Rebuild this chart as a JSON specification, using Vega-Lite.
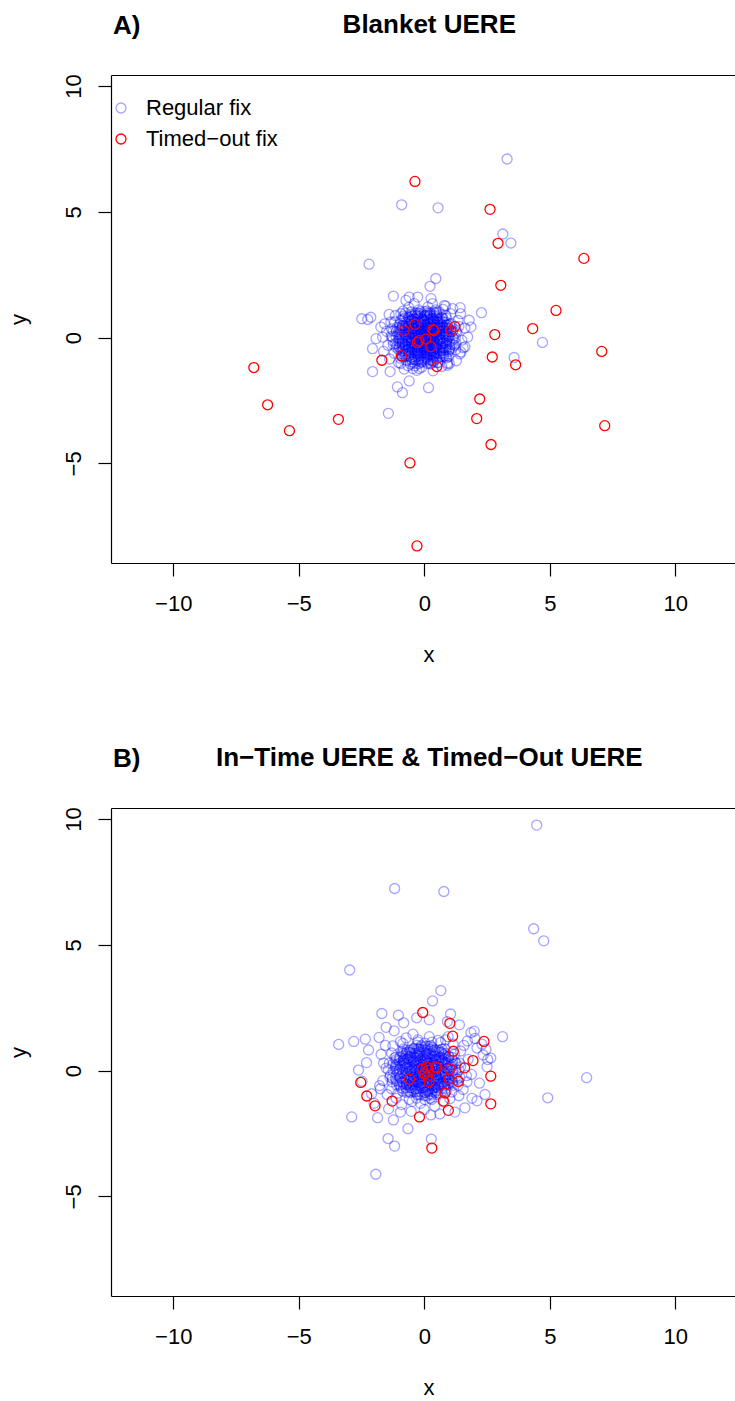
{
"$schema": "https://vega.github.io/schema/vega-lite/v6.json",
"background": "white",
"padding": {"left": 7, "top": 11, "right": 0, "bottom": 0},
"spacing": 79,
"config": {
 "font": "Liberation Sans",
 "view": {"stroke": null},
 "axis": {"grid": false, "domainColor": "#000", "domainWidth": 1.2, "tickColor": "#000", "tickWidth": 1.2, "tickSize": 13, "labelColor": "#000", "titleColor": "#000", "labelFontSize": 22, "titleFontSize": 22, "titleFontWeight": "normal", "labelFont": "Liberation Sans", "titleFont": "Liberation Sans"},
 "title": {"font": "Liberation Sans", "fontSize": 26, "fontWeight": "bold", "color": "#000"},
 "legend": {"labelFont": "Liberation Sans", "labelFontSize": 22, "labelColor": "#000"}
},
"resolve": {"scale": {"color": "independent", "opacity": "independent"}},
"datasets": {
"a": [
{"x":-1.12,"y":0.03,"fix":"Regular fix"},{"x":-0.88,"y":-0.04,"fix":"Regular fix"},{"x":-0.63,"y":0.02,"fix":"Regular fix"},{"x":-0.36,"y":-0.03,"fix":"Regular fix"},{"x":-0.13,"y":0.05,"fix":"Regular fix"},{"x":0.11,"y":-0.02,"fix":"Regular fix"},{"x":0.38,"y":0.04,"fix":"Regular fix"},{"x":0.64,"y":-0.05,"fix":"Regular fix"},{"x":0.86,"y":0.03,"fix":"Regular fix"},{"x":1.14,"y":-0.01,"fix":"Regular fix"},
{"x":-1.14,"y":-0.23,"fix":"Regular fix"},{"x":-0.86,"y":-0.28,"fix":"Regular fix"},{"x":-0.61,"y":-0.24,"fix":"Regular fix"},{"x":-0.39,"y":-0.27,"fix":"Regular fix"},{"x":-0.11,"y":-0.22,"fix":"Regular fix"},{"x":0.14,"y":-0.27,"fix":"Regular fix"},{"x":0.36,"y":-0.23,"fix":"Regular fix"},{"x":0.63,"y":-0.26,"fix":"Regular fix"},{"x":0.89,"y":-0.22,"fix":"Regular fix"},{"x":1.11,"y":-0.27,"fix":"Regular fix"},
{"x":-1.11,"y":0.24,"fix":"Regular fix"},{"x":-0.89,"y":0.28,"fix":"Regular fix"},{"x":-0.64,"y":0.22,"fix":"Regular fix"},{"x":-0.36,"y":0.26,"fix":"Regular fix"},{"x":-0.14,"y":0.23,"fix":"Regular fix"},{"x":0.12,"y":0.28,"fix":"Regular fix"},{"x":0.39,"y":0.24,"fix":"Regular fix"},{"x":0.61,"y":0.27,"fix":"Regular fix"},{"x":0.88,"y":0.23,"fix":"Regular fix"},{"x":1.13,"y":0.26,"fix":"Regular fix"},
{"x":-0.86,"y":-0.52,"fix":"Regular fix"},{"x":-0.63,"y":-0.47,"fix":"Regular fix"},{"x":-0.38,"y":-0.53,"fix":"Regular fix"},{"x":-0.12,"y":-0.48,"fix":"Regular fix"},{"x":0.13,"y":-0.51,"fix":"Regular fix"},{"x":0.37,"y":-0.47,"fix":"Regular fix"},{"x":0.64,"y":-0.53,"fix":"Regular fix"},{"x":0.87,"y":-0.48,"fix":"Regular fix"},
{"x":-0.88,"y":0.48,"fix":"Regular fix"},{"x":-0.62,"y":0.53,"fix":"Regular fix"},{"x":-0.36,"y":0.47,"fix":"Regular fix"},{"x":-0.14,"y":0.52,"fix":"Regular fix"},{"x":0.11,"y":0.49,"fix":"Regular fix"},{"x":0.38,"y":0.53,"fix":"Regular fix"},{"x":0.62,"y":0.47,"fix":"Regular fix"},{"x":0.89,"y":0.51,"fix":"Regular fix"},
{"x":-0.87,"y":-0.77,"fix":"Regular fix"},{"x":-0.64,"y":-0.73,"fix":"Regular fix"},{"x":-0.37,"y":-0.78,"fix":"Regular fix"},{"x":-0.13,"y":-0.72,"fix":"Regular fix"},{"x":0.12,"y":-0.76,"fix":"Regular fix"},{"x":0.39,"y":-0.73,"fix":"Regular fix"},{"x":0.61,"y":-0.78,"fix":"Regular fix"},{"x":0.86,"y":-0.74,"fix":"Regular fix"},
{"x":-0.86,"y":0.73,"fix":"Regular fix"},{"x":-0.61,"y":0.78,"fix":"Regular fix"},{"x":-0.39,"y":0.74,"fix":"Regular fix"},{"x":-0.11,"y":0.77,"fix":"Regular fix"},{"x":0.14,"y":0.72,"fix":"Regular fix"},{"x":0.36,"y":0.76,"fix":"Regular fix"},{"x":0.63,"y":0.73,"fix":"Regular fix"},{"x":0.88,"y":0.77,"fix":"Regular fix"},
{"x":-0.38,"y":-1.02,"fix":"Regular fix"},{"x":-0.12,"y":-0.98,"fix":"Regular fix"},{"x":0.13,"y":-1.03,"fix":"Regular fix"},{"x":0.37,"y":-0.97,"fix":"Regular fix"},
{"x":-0.36,"y":0.98,"fix":"Regular fix"},{"x":-0.14,"y":1.03,"fix":"Regular fix"},{"x":0.12,"y":0.97,"fix":"Regular fix"},{"x":0.38,"y":1.02,"fix":"Regular fix"},
{"x":-1.02,"y":-0.13,"fix":"Regular fix"},{"x":-0.74,"y":-0.11,"fix":"Regular fix"},{"x":-0.52,"y":-0.14,"fix":"Regular fix"},{"x":-0.26,"y":-0.12,"fix":"Regular fix"},{"x":0.02,"y":-0.15,"fix":"Regular fix"},{"x":0.24,"y":-0.1,"fix":"Regular fix"},{"x":0.52,"y":-0.13,"fix":"Regular fix"},{"x":0.73,"y":-0.12,"fix":"Regular fix"},{"x":1.01,"y":-0.14,"fix":"Regular fix"},
{"x":-0.98,"y":0.11,"fix":"Regular fix"},{"x":-0.76,"y":0.14,"fix":"Regular fix"},{"x":-0.49,"y":0.12,"fix":"Regular fix"},{"x":-0.23,"y":0.15,"fix":"Regular fix"},{"x":-0.01,"y":0.1,"fix":"Regular fix"},{"x":0.27,"y":0.13,"fix":"Regular fix"},{"x":0.49,"y":0.11,"fix":"Regular fix"},{"x":0.77,"y":0.14,"fix":"Regular fix"},{"x":0.98,"y":0.12,"fix":"Regular fix"},
{"x":-1.01,"y":-0.36,"fix":"Regular fix"},{"x":-0.73,"y":-0.39,"fix":"Regular fix"},{"x":-0.51,"y":-0.37,"fix":"Regular fix"},{"x":-0.24,"y":-0.4,"fix":"Regular fix"},{"x":0.03,"y":-0.35,"fix":"Regular fix"},{"x":0.26,"y":-0.38,"fix":"Regular fix"},{"x":0.48,"y":-0.36,"fix":"Regular fix"},{"x":0.76,"y":-0.39,"fix":"Regular fix"},{"x":1.02,"y":-0.37,"fix":"Regular fix"},
{"x":-0.99,"y":0.39,"fix":"Regular fix"},{"x":-0.77,"y":0.36,"fix":"Regular fix"},{"x":-0.48,"y":0.38,"fix":"Regular fix"},{"x":-0.27,"y":0.35,"fix":"Regular fix"},{"x":0.01,"y":0.39,"fix":"Regular fix"},{"x":0.23,"y":0.37,"fix":"Regular fix"},{"x":0.51,"y":0.4,"fix":"Regular fix"},{"x":0.74,"y":0.36,"fix":"Regular fix"},{"x":0.97,"y":0.38,"fix":"Regular fix"},
{"x":-0.76,"y":-0.63,"fix":"Regular fix"},{"x":-0.49,"y":-0.6,"fix":"Regular fix"},{"x":-0.26,"y":-0.64,"fix":"Regular fix"},{"x":0.02,"y":-0.61,"fix":"Regular fix"},{"x":0.27,"y":-0.65,"fix":"Regular fix"},{"x":0.49,"y":-0.62,"fix":"Regular fix"},{"x":0.74,"y":-0.6,"fix":"Regular fix"},
{"x":-0.74,"y":0.61,"fix":"Regular fix"},{"x":-0.51,"y":0.65,"fix":"Regular fix"},{"x":-0.23,"y":0.6,"fix":"Regular fix"},{"x":-0.02,"y":0.64,"fix":"Regular fix"},{"x":0.24,"y":0.62,"fix":"Regular fix"},{"x":0.52,"y":0.6,"fix":"Regular fix"},{"x":0.76,"y":0.63,"fix":"Regular fix"},
{"x":-0.51,"y":-0.87,"fix":"Regular fix"},{"x":-0.24,"y":-0.9,"fix":"Regular fix"},{"x":0.03,"y":-0.86,"fix":"Regular fix"},{"x":0.26,"y":-0.89,"fix":"Regular fix"},{"x":0.49,"y":-0.85,"fix":"Regular fix"},
{"x":-0.48,"y":0.86,"fix":"Regular fix"},{"x":-0.27,"y":0.89,"fix":"Regular fix"},{"x":0.01,"y":0.85,"fix":"Regular fix"},{"x":0.23,"y":0.88,"fix":"Regular fix"},{"x":0.52,"y":0.87,"fix":"Regular fix"},
{"x":-0.47,"y":-0.97,"fix":"Regular fix"},{"x":-0.22,"y":-1.04,"fix":"Regular fix"},{"x":0.04,"y":-0.95,"fix":"Regular fix"},{"x":0.27,"y":-1.02,"fix":"Regular fix"},{"x":0.53,"y":-0.98,"fix":"Regular fix"},
{"x":-0.78,"y":-0.72,"fix":"Regular fix"},{"x":-0.52,"y":-0.79,"fix":"Regular fix"},{"x":-0.27,"y":-0.73,"fix":"Regular fix"},{"x":0.02,"y":-0.77,"fix":"Regular fix"},{"x":0.23,"y":-0.71,"fix":"Regular fix"},{"x":0.48,"y":-0.76,"fix":"Regular fix"},{"x":0.77,"y":-0.74,"fix":"Regular fix"},
{"x":-1.02,"y":-0.48,"fix":"Regular fix"},{"x":-0.73,"y":-0.53,"fix":"Regular fix"},{"x":-0.49,"y":-0.47,"fix":"Regular fix"},{"x":-0.26,"y":-0.52,"fix":"Regular fix"},{"x":0.03,"y":-0.49,"fix":"Regular fix"},{"x":0.24,"y":-0.54,"fix":"Regular fix"},{"x":0.51,"y":-0.46,"fix":"Regular fix"},{"x":0.76,"y":-0.51,"fix":"Regular fix"},{"x":0.98,"y":-0.49,"fix":"Regular fix"},
{"x":-1.23,"y":-0.27,"fix":"Regular fix"},{"x":-0.97,"y":-0.22,"fix":"Regular fix"},{"x":-0.76,"y":-0.28,"fix":"Regular fix"},{"x":-0.48,"y":-0.23,"fix":"Regular fix"},{"x":-0.23,"y":-0.26,"fix":"Regular fix"},{"x":0.01,"y":-0.24,"fix":"Regular fix"},{"x":0.27,"y":-0.22,"fix":"Regular fix"},{"x":0.49,"y":-0.28,"fix":"Regular fix"},{"x":0.74,"y":-0.24,"fix":"Regular fix"},{"x":1.03,"y":-0.26,"fix":"Regular fix"},{"x":1.26,"y":-0.23,"fix":"Regular fix"},
{"x":-1.27,"y":0.02,"fix":"Regular fix"},{"x":-1.01,"y":-0.03,"fix":"Regular fix"},{"x":-0.74,"y":0.03,"fix":"Regular fix"},{"x":-0.52,"y":-0.02,"fix":"Regular fix"},{"x":-0.24,"y":0.04,"fix":"Regular fix"},{"x":0.02,"y":-0.01,"fix":"Regular fix"},{"x":0.26,"y":0.03,"fix":"Regular fix"},{"x":0.52,"y":-0.03,"fix":"Regular fix"},{"x":0.77,"y":0.02,"fix":"Regular fix"},{"x":0.99,"y":0.04,"fix":"Regular fix"},{"x":1.24,"y":-0.02,"fix":"Regular fix"},
{"x":-1.24,"y":0.27,"fix":"Regular fix"},{"x":-1.02,"y":0.22,"fix":"Regular fix"},{"x":-0.77,"y":0.26,"fix":"Regular fix"},{"x":-0.51,"y":0.23,"fix":"Regular fix"},{"x":-0.27,"y":0.28,"fix":"Regular fix"},{"x":-0.02,"y":0.24,"fix":"Regular fix"},{"x":0.23,"y":0.27,"fix":"Regular fix"},{"x":0.48,"y":0.22,"fix":"Regular fix"},{"x":0.76,"y":0.26,"fix":"Regular fix"},{"x":1.01,"y":0.23,"fix":"Regular fix"},{"x":1.27,"y":0.26,"fix":"Regular fix"},
{"x":-0.99,"y":0.52,"fix":"Regular fix"},{"x":-0.76,"y":0.47,"fix":"Regular fix"},{"x":-0.49,"y":0.53,"fix":"Regular fix"},{"x":-0.24,"y":0.48,"fix":"Regular fix"},{"x":0.03,"y":0.51,"fix":"Regular fix"},{"x":0.27,"y":0.46,"fix":"Regular fix"},{"x":0.52,"y":0.52,"fix":"Regular fix"},{"x":0.73,"y":0.49,"fix":"Regular fix"},{"x":1.02,"y":0.53,"fix":"Regular fix"},
{"x":-0.77,"y":0.78,"fix":"Regular fix"},{"x":-0.48,"y":0.72,"fix":"Regular fix"},{"x":-0.26,"y":0.77,"fix":"Regular fix"},{"x":-0.01,"y":0.73,"fix":"Regular fix"},{"x":0.26,"y":0.76,"fix":"Regular fix"},{"x":0.53,"y":0.74,"fix":"Regular fix"},{"x":0.74,"y":0.77,"fix":"Regular fix"},
{"x":-0.52,"y":1.02,"fix":"Regular fix"},{"x":-0.23,"y":0.97,"fix":"Regular fix"},{"x":0.02,"y":1.03,"fix":"Regular fix"},{"x":0.24,"y":0.98,"fix":"Regular fix"},{"x":0.49,"y":1.01,"fix":"Regular fix"},
{"x":-0.39,"y":-0.86,"fix":"Regular fix"},{"x":-0.11,"y":-0.89,"fix":"Regular fix"},{"x":0.14,"y":-0.87,"fix":"Regular fix"},{"x":0.36,"y":-0.9,"fix":"Regular fix"},
{"x":-0.61,"y":-0.64,"fix":"Regular fix"},{"x":-0.37,"y":-0.6,"fix":"Regular fix"},{"x":-0.14,"y":-0.63,"fix":"Regular fix"},{"x":0.12,"y":-0.61,"fix":"Regular fix"},{"x":0.39,"y":-0.65,"fix":"Regular fix"},{"x":0.64,"y":-0.62,"fix":"Regular fix"},
{"x":-0.88,"y":-0.36,"fix":"Regular fix"},{"x":-0.62,"y":-0.39,"fix":"Regular fix"},{"x":-0.36,"y":-0.37,"fix":"Regular fix"},{"x":-0.13,"y":-0.4,"fix":"Regular fix"},{"x":0.11,"y":-0.36,"fix":"Regular fix"},{"x":0.38,"y":-0.38,"fix":"Regular fix"},{"x":0.63,"y":-0.35,"fix":"Regular fix"},{"x":0.86,"y":-0.39,"fix":"Regular fix"},
{"x":-0.86,"y":-0.14,"fix":"Regular fix"},{"x":-0.64,"y":-0.11,"fix":"Regular fix"},{"x":-0.38,"y":-0.13,"fix":"Regular fix"},{"x":-0.12,"y":-0.1,"fix":"Regular fix"},{"x":0.14,"y":-0.14,"fix":"Regular fix"},{"x":0.36,"y":-0.12,"fix":"Regular fix"},{"x":0.61,"y":-0.1,"fix":"Regular fix"},{"x":0.89,"y":-0.13,"fix":"Regular fix"},
{"x":-0.89,"y":0.12,"fix":"Regular fix"},{"x":-0.61,"y":0.14,"fix":"Regular fix"},{"x":-0.37,"y":0.11,"fix":"Regular fix"},{"x":-0.14,"y":0.13,"fix":"Regular fix"},{"x":0.12,"y":0.1,"fix":"Regular fix"},{"x":0.39,"y":0.14,"fix":"Regular fix"},{"x":0.62,"y":0.12,"fix":"Regular fix"},{"x":0.87,"y":0.11,"fix":"Regular fix"},
{"x":-0.87,"y":0.39,"fix":"Regular fix"},{"x":-0.63,"y":0.36,"fix":"Regular fix"},{"x":-0.39,"y":0.38,"fix":"Regular fix"},{"x":-0.11,"y":0.37,"fix":"Regular fix"},{"x":0.13,"y":0.4,"fix":"Regular fix"},{"x":0.37,"y":0.36,"fix":"Regular fix"},{"x":0.64,"y":0.39,"fix":"Regular fix"},{"x":0.88,"y":0.37,"fix":"Regular fix"},
{"x":-0.62,"y":0.64,"fix":"Regular fix"},{"x":-0.36,"y":0.61,"fix":"Regular fix"},{"x":-0.13,"y":0.63,"fix":"Regular fix"},{"x":0.14,"y":0.6,"fix":"Regular fix"},{"x":0.38,"y":0.64,"fix":"Regular fix"},{"x":0.61,"y":0.62,"fix":"Regular fix"},
{"x":-0.37,"y":0.89,"fix":"Regular fix"},{"x":-0.14,"y":0.86,"fix":"Regular fix"},{"x":0.11,"y":0.88,"fix":"Regular fix"},{"x":0.39,"y":0.87,"fix":"Regular fix"},
{"x":0.02,"y":0.05,"fix":"Regular fix"},{"x":-0.12,"y":0.18,"fix":"Regular fix"},{"x":0.21,"y":-0.08,"fix":"Regular fix"},{"x":-0.31,"y":-0.14,"fix":"Regular fix"},{"x":0.35,"y":0.22,"fix":"Regular fix"},{"x":-0.05,"y":-0.33,"fix":"Regular fix"},{"x":0.14,"y":0.41,"fix":"Regular fix"},{"x":-0.42,"y":0.09,"fix":"Regular fix"},{"x":0.44,"y":-0.27,"fix":"Regular fix"},{"x":-0.22,"y":-0.41,"fix":"Regular fix"},
{"x":0.08,"y":-0.15,"fix":"Regular fix"},{"x":-0.17,"y":0.31,"fix":"Regular fix"},{"x":0.29,"y":0.06,"fix":"Regular fix"},{"x":-0.36,"y":0.28,"fix":"Regular fix"},{"x":0.19,"y":-0.38,"fix":"Regular fix"},{"x":-0.09,"y":0.02,"fix":"Regular fix"},{"x":0.4,"y":0.35,"fix":"Regular fix"},{"x":-0.28,"y":-0.29,"fix":"Regular fix"},{"x":0.05,"y":0.27,"fix":"Regular fix"},{"x":-0.47,"y":-0.05,"fix":"Regular fix"},
{"x":0.31,"y":-0.19,"fix":"Regular fix"},{"x":-0.14,"y":-0.22,"fix":"Regular fix"},{"x":0.12,"y":0.12,"fix":"Regular fix"},{"x":-0.03,"y":0.44,"fix":"Regular fix"},{"x":0.47,"y":0.03,"fix":"Regular fix"},{"x":-0.25,"y":0.45,"fix":"Regular fix"},{"x":0.23,"y":-0.46,"fix":"Regular fix"},{"x":-0.39,"y":-0.34,"fix":"Regular fix"},{"x":0.01,"y":-0.48,"fix":"Regular fix"},{"x":0.37,"y":0.11,"fix":"Regular fix"},
{"x":-0.11,"y":-0.06,"fix":"Regular fix"},{"x":0.17,"y":0.29,"fix":"Regular fix"},{"x":-0.33,"y":0.16,"fix":"Regular fix"},{"x":0.26,"y":-0.31,"fix":"Regular fix"},{"x":-0.2,"y":0.07,"fix":"Regular fix"},{"x":0.09,"y":-0.27,"fix":"Regular fix"},{"x":-0.44,"y":0.38,"fix":"Regular fix"},{"x":0.42,"y":-0.42,"fix":"Regular fix"},{"x":-0.07,"y":0.36,"fix":"Regular fix"},{"x":0.33,"y":0.43,"fix":"Regular fix"},
{"x":-0.3,"y":-0.45,"fix":"Regular fix"},{"x":0.15,"y":0.01,"fix":"Regular fix"},{"x":-0.18,"y":-0.12,"fix":"Regular fix"},{"x":0.04,"y":0.19,"fix":"Regular fix"},{"x":0.28,"y":-0.04,"fix":"Regular fix"},{"x":-0.4,"y":-0.22,"fix":"Regular fix"},{"x":0.11,"y":-0.41,"fix":"Regular fix"},{"x":-0.26,"y":0.24,"fix":"Regular fix"},{"x":0.45,"y":0.17,"fix":"Regular fix"},{"x":-0.01,"y":-0.18,"fix":"Regular fix"},
{"x":0.2,"y":0.37,"fix":"Regular fix"},{"x":-0.35,"y":0.01,"fix":"Regular fix"},{"x":0.38,"y":-0.12,"fix":"Regular fix"},{"x":-0.13,"y":0.25,"fix":"Regular fix"},{"x":0.06,"y":-0.06,"fix":"Regular fix"},{"x":-0.23,"y":-0.33,"fix":"Regular fix"},{"x":0.3,"y":0.28,"fix":"Regular fix"},{"x":-0.46,"y":0.2,"fix":"Regular fix"},{"x":0.16,"y":-0.22,"fix":"Regular fix"},{"x":-0.06,"y":0.1,"fix":"Regular fix"},
{"x":0.62,"y":0.15,"fix":"Regular fix"},{"x":-0.58,"y":0.33,"fix":"Regular fix"},{"x":0.71,"y":-0.41,"fix":"Regular fix"},{"x":-0.66,"y":-0.48,"fix":"Regular fix"},{"x":0.12,"y":0.78,"fix":"Regular fix"},{"x":-0.21,"y":-0.74,"fix":"Regular fix"},{"x":0.55,"y":0.61,"fix":"Regular fix"},{"x":-0.74,"y":0.12,"fix":"Regular fix"},{"x":0.83,"y":0.27,"fix":"Regular fix"},{"x":-0.52,"y":0.68,"fix":"Regular fix"},
{"x":0.35,"y":-0.79,"fix":"Regular fix"},{"x":-0.89,"y":-0.21,"fix":"Regular fix"},{"x":0.68,"y":0.52,"fix":"Regular fix"},{"x":-0.3,"y":0.85,"fix":"Regular fix"},{"x":0.91,"y":-0.08,"fix":"Regular fix"},{"x":-0.61,"y":-0.72,"fix":"Regular fix"},{"x":0.24,"y":0.92,"fix":"Regular fix"},{"x":-0.95,"y":0.3,"fix":"Regular fix"},{"x":0.77,"y":-0.63,"fix":"Regular fix"},{"x":-0.12,"y":-0.95,"fix":"Regular fix"},
{"x":0.58,"y":-0.18,"fix":"Regular fix"},{"x":-0.7,"y":0.56,"fix":"Regular fix"},{"x":0.47,"y":0.79,"fix":"Regular fix"},{"x":-0.82,"y":-0.44,"fix":"Regular fix"},{"x":0.96,"y":0.36,"fix":"Regular fix"},{"x":-0.41,"y":-0.88,"fix":"Regular fix"},{"x":0.18,"y":-0.66,"fix":"Regular fix"},{"x":-0.55,"y":0.02,"fix":"Regular fix"},{"x":0.8,"y":0.6,"fix":"Regular fix"},{"x":-0.15,"y":0.62,"fix":"Regular fix"},
{"x":0.66,"y":-0.74,"fix":"Regular fix"},{"x":-0.98,"y":-0.06,"fix":"Regular fix"},{"x":0.39,"y":0.68,"fix":"Regular fix"},{"x":-0.63,"y":0.82,"fix":"Regular fix"},{"x":0.87,"y":-0.32,"fix":"Regular fix"},{"x":-0.28,"y":-0.6,"fix":"Regular fix"},{"x":0.51,"y":0.36,"fix":"Regular fix"},{"x":-0.78,"y":-0.3,"fix":"Regular fix"},{"x":0.05,"y":0.88,"fix":"Regular fix"},{"x":-0.47,"y":0.54,"fix":"Regular fix"},
{"x":0.73,"y":0.02,"fix":"Regular fix"},{"x":-0.86,"y":0.47,"fix":"Regular fix"},{"x":0.44,"y":-0.58,"fix":"Regular fix"},{"x":-0.2,"y":-0.85,"fix":"Regular fix"},{"x":0.93,"y":0.51,"fix":"Regular fix"},{"x":-0.68,"y":-0.15,"fix":"Regular fix"},{"x":0.27,"y":0.58,"fix":"Regular fix"},{"x":-0.57,"y":-0.57,"fix":"Regular fix"},{"x":0.6,"y":-0.5,"fix":"Regular fix"},{"x":-0.93,"y":0.68,"fix":"Regular fix"},
{"x":0.1,"y":-0.8,"fix":"Regular fix"},{"x":-0.36,"y":0.74,"fix":"Regular fix"},{"x":0.85,"y":0.15,"fix":"Regular fix"},{"x":-0.73,"y":-0.66,"fix":"Regular fix"},{"x":0.5,"y":0.95,"fix":"Regular fix"},{"x":-0.08,"y":0.7,"fix":"Regular fix"},{"x":0.98,"y":-0.55,"fix":"Regular fix"},{"x":-0.6,"y":0.24,"fix":"Regular fix"},{"x":0.32,"y":-0.92,"fix":"Regular fix"},{"x":-0.88,"y":-0.75,"fix":"Regular fix"},
{"x":0.7,"y":0.8,"fix":"Regular fix"},{"x":-0.45,"y":-0.35,"fix":"Regular fix"},{"x":0.63,"y":-0.08,"fix":"Regular fix"},{"x":-0.8,"y":0.02,"fix":"Regular fix"},{"x":0.15,"y":0.55,"fix":"Regular fix"},{"x":-0.25,"y":-0.52,"fix":"Regular fix"},{"x":0.9,"y":-0.8,"fix":"Regular fix"},{"x":-0.52,"y":0.92,"fix":"Regular fix"},{"x":0.42,"y":0.5,"fix":"Regular fix"},{"x":-0.99,"y":-0.38,"fix":"Regular fix"},
{"x":0.78,"y":-0.2,"fix":"Regular fix"},{"x":-0.38,"y":0.62,"fix":"Regular fix"},{"x":0.2,"y":-0.55,"fix":"Regular fix"},{"x":-0.65,"y":0.45,"fix":"Regular fix"},{"x":0.55,"y":0.25,"fix":"Regular fix"},{"x":-0.05,"y":-0.62,"fix":"Regular fix"},{"x":0.86,"y":0.88,"fix":"Regular fix"},{"x":-0.84,"y":0.84,"fix":"Regular fix"},{"x":0.3,"y":0.72,"fix":"Regular fix"},{"x":-0.72,"y":-0.9,"fix":"Regular fix"},
{"x":0.62,"y":0.38,"fix":"Regular fix"},{"x":-0.5,"y":-0.2,"fix":"Regular fix"},{"x":0.48,"y":-0.35,"fix":"Regular fix"},{"x":-0.32,"y":0.5,"fix":"Regular fix"},{"x":0.95,"y":0.05,"fix":"Regular fix"},{"x":-0.18,"y":0.95,"fix":"Regular fix"},{"x":0.38,"y":-0.55,"fix":"Regular fix"},{"x":-0.92,"y":-0.55,"fix":"Regular fix"},{"x":0.75,"y":0.42,"fix":"Regular fix"},{"x":-0.55,"y":0.72,"fix":"Regular fix"},
{"x":1.12,"y":0.25,"fix":"Regular fix"},{"x":-1.08,"y":0.41,"fix":"Regular fix"},{"x":1.25,"y":-0.48,"fix":"Regular fix"},{"x":-1.2,"y":-0.62,"fix":"Regular fix"},{"x":0.45,"y":1.1,"fix":"Regular fix"},{"x":-0.38,"y":-1.12,"fix":"Regular fix"},{"x":1.35,"y":0.68,"fix":"Regular fix"},{"x":-1.32,"y":0.05,"fix":"Regular fix"},{"x":0.92,"y":-1.02,"fix":"Regular fix"},{"x":-0.85,"y":1.05,"fix":"Regular fix"},
{"x":1.5,"y":-0.1,"fix":"Regular fix"},{"x":-1.45,"y":-0.3,"fix":"Regular fix"},{"x":0.15,"y":1.22,"fix":"Regular fix"},{"x":-0.1,"y":-1.18,"fix":"Regular fix"},{"x":1.05,"y":0.95,"fix":"Regular fix"},{"x":-1.15,"y":0.88,"fix":"Regular fix"},{"x":1.28,"y":-0.92,"fix":"Regular fix"},{"x":-1.02,"y":-1.0,"fix":"Regular fix"},{"x":0.7,"y":-1.15,"fix":"Regular fix"},{"x":-0.62,"y":1.2,"fix":"Regular fix"},
{"x":1.62,"y":0.38,"fix":"Regular fix"},{"x":-1.58,"y":0.55,"fix":"Regular fix"},{"x":1.42,"y":-0.65,"fix":"Regular fix"},{"x":-1.38,"y":-0.85,"fix":"Regular fix"},{"x":0.85,"y":1.25,"fix":"Regular fix"},{"x":-0.4,"y":1.35,"fix":"Regular fix"},{"x":0.35,"y":-1.32,"fix":"Regular fix"},{"x":-0.8,"y":-1.25,"fix":"Regular fix"},{"x":1.18,"y":-0.05,"fix":"Regular fix"},{"x":-1.25,"y":-0.12,"fix":"Regular fix"},
{"x":1.08,"y":0.55,"fix":"Regular fix"},{"x":-1.05,"y":0.12,"fix":"Regular fix"},{"x":1.3,"y":0.2,"fix":"Regular fix"},{"x":-1.12,"y":-0.38,"fix":"Regular fix"},{"x":0.6,"y":1.02,"fix":"Regular fix"},{"x":-0.22,"y":1.1,"fix":"Regular fix"},{"x":0.98,"y":-0.75,"fix":"Regular fix"},{"x":-0.95,"y":-0.82,"fix":"Regular fix"},{"x":1.45,"y":0.95,"fix":"Regular fix"},{"x":-1.4,"y":0.92,"fix":"Regular fix"},
{"x":1.2,"y":-0.3,"fix":"Regular fix"},{"x":-1.5,"y":0.25,"fix":"Regular fix"},{"x":0.25,"y":-1.05,"fix":"Regular fix"},{"x":-0.55,"y":-1.05,"fix":"Regular fix"},{"x":1.02,"y":-0.45,"fix":"Regular fix"},{"x":-1.18,"y":0.62,"fix":"Regular fix"},{"x":0.75,"y":1.12,"fix":"Regular fix"},{"x":-0.75,"y":0.98,"fix":"Regular fix"},{"x":1.55,"y":-0.4,"fix":"Regular fix"},{"x":-1.62,"y":-0.55,"fix":"Regular fix"},
{"x":0.1,"y":1.05,"fix":"Regular fix"},{"x":-0.3,"y":-1.3,"fix":"Regular fix"},{"x":1.38,"y":0.45,"fix":"Regular fix"},{"x":-1.3,"y":0.35,"fix":"Regular fix"},{"x":0.55,"y":-1.0,"fix":"Regular fix"},{"x":-0.65,"y":-1.12,"fix":"Regular fix"},
{"x":-0.73,"y":1.48,"fix":"Regular fix"},{"x":-0.6,"y":1.61,"fix":"Regular fix"},{"x":-0.26,"y":1.61,"fix":"Regular fix"},{"x":0.27,"y":1.55,"fix":"Regular fix"},{"x":0.33,"y":1.35,"fix":"Regular fix"},{"x":0.8,"y":1.28,"fix":"Regular fix"},{"x":1.13,"y":1.15,"fix":"Regular fix"},{"x":1.43,"y":1.19,"fix":"Regular fix"},{"x":1.79,"y":0.69,"fix":"Regular fix"},{"x":1.86,"y":0.42,"fix":"Regular fix"},
{"x":1.73,"y":0.02,"fix":"Regular fix"},{"x":1.62,"y":-0.37,"fix":"Regular fix"},{"x":1.46,"y":-0.57,"fix":"Regular fix"},{"x":1.0,"y":-1.03,"fix":"Regular fix"},{"x":0.93,"y":-1.1,"fix":"Regular fix"},{"x":-0.93,"y":-1.03,"fix":"Regular fix"},{"x":-0.46,"y":-1.23,"fix":"Regular fix"},{"x":-0.2,"y":-1.23,"fix":"Regular fix"},{"x":-1.73,"y":0.42,"fix":"Regular fix"},{"x":-1.66,"y":0.02,"fix":"Regular fix"},
{"x":-1.92,"y":-0.04,"fix":"Regular fix"},{"x":-2.06,"y":-0.44,"fix":"Regular fix"},{"x":-1.33,"y":0.62,"fix":"Regular fix"},{"x":-0.93,"y":0.95,"fix":"Regular fix"},{"x":-2.25,"y":0.72,"fix":"Regular fix"},
{"x":3.3,"y":7.1,"fix":"Regular fix"},{"x":-0.9,"y":5.28,"fix":"Regular fix"},{"x":0.55,"y":5.16,"fix":"Regular fix"},{"x":3.13,"y":4.12,"fix":"Regular fix"},{"x":3.45,"y":3.76,"fix":"Regular fix"},{"x":-2.2,"y":2.92,"fix":"Regular fix"},{"x":0.46,"y":2.35,"fix":"Regular fix"},{"x":0.23,"y":2.04,"fix":"Regular fix"},{"x":-1.23,"y":1.65,"fix":"Regular fix"},{"x":2.28,"y":0.99,"fix":"Regular fix"},
{"x":-2.49,"y":0.75,"fix":"Regular fix"},{"x":-2.13,"y":0.81,"fix":"Regular fix"},{"x":4.71,"y":-0.19,"fix":"Regular fix"},{"x":3.58,"y":-0.79,"fix":"Regular fix"},{"x":-2.06,"y":-1.35,"fix":"Regular fix"},{"x":-1.36,"y":-1.35,"fix":"Regular fix"},{"x":-1.07,"y":-1.96,"fix":"Regular fix"},{"x":-0.87,"y":-2.19,"fix":"Regular fix"},{"x":0.17,"y":-1.99,"fix":"Regular fix"},{"x":-1.43,"y":-3.01,"fix":"Regular fix"},
{"x":-0.6,"y":-1.72,"fix":"Regular fix"},
{"x":-0.37,"y":6.21,"fix":"Timed\u2212out fix"},{"x":2.62,"y":5.1,"fix":"Timed\u2212out fix"},{"x":2.94,"y":3.75,"fix":"Timed\u2212out fix"},{"x":3.05,"y":2.08,"fix":"Timed\u2212out fix"},{"x":6.36,"y":3.15,"fix":"Timed\u2212out fix"},{"x":5.25,"y":1.08,"fix":"Timed\u2212out fix"},{"x":4.32,"y":0.36,"fix":"Timed\u2212out fix"},{"x":2.81,"y":0.12,"fix":"Timed\u2212out fix"},{"x":2.71,"y":-0.77,"fix":"Timed\u2212out fix"},{"x":3.64,"y":-1.08,"fix":"Timed\u2212out fix"},
{"x":7.07,"y":-0.55,"fix":"Timed\u2212out fix"},{"x":7.19,"y":-3.5,"fix":"Timed\u2212out fix"},{"x":2.21,"y":-2.44,"fix":"Timed\u2212out fix"},{"x":2.09,"y":-3.22,"fix":"Timed\u2212out fix"},{"x":2.66,"y":-4.25,"fix":"Timed\u2212out fix"},{"x":-0.57,"y":-4.98,"fix":"Timed\u2212out fix"},{"x":-0.29,"y":-8.28,"fix":"Timed\u2212out fix"},{"x":-6.79,"y":-1.19,"fix":"Timed\u2212out fix"},{"x":-6.24,"y":-2.67,"fix":"Timed\u2212out fix"},{"x":-5.37,"y":-3.7,"fix":"Timed\u2212out fix"},
{"x":-3.42,"y":-3.25,"fix":"Timed\u2212out fix"},{"x":-1.69,"y":-0.9,"fix":"Timed\u2212out fix"},{"x":-0.91,"y":-0.72,"fix":"Timed\u2212out fix"},{"x":0.5,"y":-1.15,"fix":"Timed\u2212out fix"},{"x":-0.37,"y":0.52,"fix":"Timed\u2212out fix"},{"x":0.35,"y":0.32,"fix":"Timed\u2212out fix"},{"x":0.39,"y":0.28,"fix":"Timed\u2212out fix"},{"x":1.06,"y":0.28,"fix":"Timed\u2212out fix"},{"x":1.22,"y":0.44,"fix":"Timed\u2212out fix"},{"x":-0.8,"y":0.28,"fix":"Timed\u2212out fix"},
{"x":-0.27,"y":-0.19,"fix":"Timed\u2212out fix"},{"x":-0.21,"y":-0.12,"fix":"Timed\u2212out fix"},{"x":0.26,"y":-0.36,"fix":"Timed\u2212out fix"},{"x":0.06,"y":-0.05,"fix":"Timed\u2212out fix"}
],
"b": [
{"x":-1.24,"y":-0.03,"fix":"Regular fix"},{"x":-0.99,"y":0.04,"fix":"Regular fix"},{"x":-0.72,"y":-0.02,"fix":"Regular fix"},{"x":-0.41,"y":0.03,"fix":"Regular fix"},{"x":-0.16,"y":-0.04,"fix":"Regular fix"},{"x":0.13,"y":0.02,"fix":"Regular fix"},{"x":0.43,"y":-0.03,"fix":"Regular fix"},{"x":0.69,"y":0.04,"fix":"Regular fix"},{"x":0.97,"y":-0.02,"fix":"Regular fix"},{"x":1.27,"y":0.03,"fix":"Regular fix"},
{"x":-1.27,"y":-0.3,"fix":"Regular fix"},{"x":-0.97,"y":-0.26,"fix":"Regular fix"},{"x":-0.69,"y":-0.31,"fix":"Regular fix"},{"x":-0.43,"y":-0.27,"fix":"Regular fix"},{"x":-0.13,"y":-0.29,"fix":"Regular fix"},{"x":0.16,"y":-0.25,"fix":"Regular fix"},{"x":0.41,"y":-0.3,"fix":"Regular fix"},{"x":0.72,"y":-0.26,"fix":"Regular fix"},{"x":0.99,"y":-0.29,"fix":"Regular fix"},{"x":1.24,"y":-0.27,"fix":"Regular fix"},
{"x":-1.25,"y":0.26,"fix":"Regular fix"},{"x":-0.98,"y":0.3,"fix":"Regular fix"},{"x":-0.71,"y":0.27,"fix":"Regular fix"},{"x":-0.42,"y":0.31,"fix":"Regular fix"},{"x":-0.15,"y":0.25,"fix":"Regular fix"},{"x":0.14,"y":0.29,"fix":"Regular fix"},{"x":0.43,"y":0.26,"fix":"Regular fix"},{"x":0.7,"y":0.3,"fix":"Regular fix"},{"x":0.96,"y":0.27,"fix":"Regular fix"},{"x":1.26,"y":0.29,"fix":"Regular fix"},
{"x":-0.99,"y":-0.58,"fix":"Regular fix"},{"x":-0.7,"y":-0.54,"fix":"Regular fix"},{"x":-0.43,"y":-0.57,"fix":"Regular fix"},{"x":-0.13,"y":-0.53,"fix":"Regular fix"},{"x":0.15,"y":-0.58,"fix":"Regular fix"},{"x":0.42,"y":-0.55,"fix":"Regular fix"},{"x":0.71,"y":-0.57,"fix":"Regular fix"},{"x":0.97,"y":-0.54,"fix":"Regular fix"},
{"x":-0.97,"y":0.54,"fix":"Regular fix"},{"x":-0.72,"y":0.58,"fix":"Regular fix"},{"x":-0.41,"y":0.55,"fix":"Regular fix"},{"x":-0.15,"y":0.57,"fix":"Regular fix"},{"x":0.13,"y":0.53,"fix":"Regular fix"},{"x":0.41,"y":0.58,"fix":"Regular fix"},{"x":0.69,"y":0.54,"fix":"Regular fix"},{"x":0.98,"y":0.57,"fix":"Regular fix"},
{"x":-0.71,"y":-0.86,"fix":"Regular fix"},{"x":-0.42,"y":-0.82,"fix":"Regular fix"},{"x":-0.14,"y":-0.85,"fix":"Regular fix"},{"x":0.15,"y":-0.83,"fix":"Regular fix"},{"x":0.43,"y":-0.87,"fix":"Regular fix"},{"x":0.69,"y":-0.82,"fix":"Regular fix"},
{"x":-0.69,"y":0.82,"fix":"Regular fix"},{"x":-0.43,"y":0.86,"fix":"Regular fix"},{"x":-0.13,"y":0.83,"fix":"Regular fix"},{"x":0.14,"y":0.87,"fix":"Regular fix"},{"x":0.42,"y":0.82,"fix":"Regular fix"},{"x":0.71,"y":0.85,"fix":"Regular fix"},
{"x":-1.1,"y":-0.16,"fix":"Regular fix"},{"x":-0.85,"y":-0.12,"fix":"Regular fix"},{"x":-0.54,"y":-0.15,"fix":"Regular fix"},{"x":-0.3,"y":-0.13,"fix":"Regular fix"},{"x":0.02,"y":-0.16,"fix":"Regular fix"},{"x":0.27,"y":-0.12,"fix":"Regular fix"},{"x":0.57,"y":-0.15,"fix":"Regular fix"},{"x":0.83,"y":-0.11,"fix":"Regular fix"},{"x":1.13,"y":-0.14,"fix":"Regular fix"},
{"x":-1.13,"y":0.12,"fix":"Regular fix"},{"x":-0.83,"y":0.16,"fix":"Regular fix"},{"x":-0.58,"y":0.13,"fix":"Regular fix"},{"x":-0.27,"y":0.15,"fix":"Regular fix"},{"x":-0.01,"y":0.11,"fix":"Regular fix"},{"x":0.3,"y":0.14,"fix":"Regular fix"},{"x":0.55,"y":0.16,"fix":"Regular fix"},{"x":0.86,"y":0.12,"fix":"Regular fix"},{"x":1.1,"y":0.15,"fix":"Regular fix"},
{"x":-1.11,"y":-0.4,"fix":"Regular fix"},{"x":-0.86,"y":-0.44,"fix":"Regular fix"},{"x":-0.55,"y":-0.41,"fix":"Regular fix"},{"x":-0.29,"y":-0.43,"fix":"Regular fix"},{"x":0.03,"y":-0.4,"fix":"Regular fix"},{"x":0.28,"y":-0.44,"fix":"Regular fix"},{"x":0.54,"y":-0.42,"fix":"Regular fix"},{"x":0.85,"y":-0.39,"fix":"Regular fix"},{"x":1.12,"y":-0.43,"fix":"Regular fix"},
{"x":-1.12,"y":0.44,"fix":"Regular fix"},{"x":-0.84,"y":0.4,"fix":"Regular fix"},{"x":-0.57,"y":0.43,"fix":"Regular fix"},{"x":-0.26,"y":0.41,"fix":"Regular fix"},{"x":0.02,"y":0.44,"fix":"Regular fix"},{"x":0.29,"y":0.4,"fix":"Regular fix"},{"x":0.56,"y":0.42,"fix":"Regular fix"},{"x":0.83,"y":0.45,"fix":"Regular fix"},{"x":1.13,"y":0.41,"fix":"Regular fix"},
{"x":-0.83,"y":-0.72,"fix":"Regular fix"},{"x":-0.57,"y":-0.68,"fix":"Regular fix"},{"x":-0.27,"y":-0.71,"fix":"Regular fix"},{"x":0.01,"y":-0.69,"fix":"Regular fix"},{"x":0.3,"y":-0.72,"fix":"Regular fix"},{"x":0.55,"y":-0.68,"fix":"Regular fix"},{"x":0.86,"y":-0.71,"fix":"Regular fix"},
{"x":-0.85,"y":0.68,"fix":"Regular fix"},{"x":-0.55,"y":0.72,"fix":"Regular fix"},{"x":-0.29,"y":0.69,"fix":"Regular fix"},{"x":0.02,"y":0.71,"fix":"Regular fix"},{"x":0.27,"y":0.68,"fix":"Regular fix"},{"x":0.58,"y":0.72,"fix":"Regular fix"},{"x":0.84,"y":0.69,"fix":"Regular fix"},
{"x":-0.27,"y":-0.96,"fix":"Regular fix"},{"x":0.01,"y":-1.0,"fix":"Regular fix"},{"x":0.29,"y":-0.97,"fix":"Regular fix"},
{"x":-0.3,"y":1.0,"fix":"Regular fix"},{"x":0.03,"y":0.96,"fix":"Regular fix"},{"x":0.26,"y":0.99,"fix":"Regular fix"},
{"x":-0.31,"y":-1.09,"fix":"Regular fix"},{"x":0.03,"y":-1.15,"fix":"Regular fix"},{"x":0.25,"y":-1.1,"fix":"Regular fix"},
{"x":-0.86,"y":-0.81,"fix":"Regular fix"},{"x":-0.55,"y":-0.87,"fix":"Regular fix"},{"x":-0.3,"y":-0.82,"fix":"Regular fix"},{"x":0.02,"y":-0.86,"fix":"Regular fix"},{"x":0.31,"y":-0.83,"fix":"Regular fix"},{"x":0.54,"y":-0.88,"fix":"Regular fix"},{"x":0.87,"y":-0.82,"fix":"Regular fix"},
{"x":-1.1,"y":-0.58,"fix":"Regular fix"},{"x":-0.82,"y":-0.53,"fix":"Regular fix"},{"x":-0.58,"y":-0.59,"fix":"Regular fix"},{"x":-0.25,"y":-0.55,"fix":"Regular fix"},{"x":0.03,"y":-0.58,"fix":"Regular fix"},{"x":0.26,"y":-0.53,"fix":"Regular fix"},{"x":0.59,"y":-0.57,"fix":"Regular fix"},{"x":0.82,"y":-0.54,"fix":"Regular fix"},{"x":1.15,"y":-0.58,"fix":"Regular fix"},
{"x":-1.37,"y":-0.26,"fix":"Regular fix"},{"x":-1.14,"y":-0.31,"fix":"Regular fix"},{"x":-0.81,"y":-0.27,"fix":"Regular fix"},{"x":-0.59,"y":-0.3,"fix":"Regular fix"},{"x":-0.26,"y":-0.25,"fix":"Regular fix"},{"x":-0.02,"y":-0.3,"fix":"Regular fix"},{"x":0.3,"y":-0.26,"fix":"Regular fix"},{"x":0.53,"y":-0.29,"fix":"Regular fix"},{"x":0.86,"y":-0.25,"fix":"Regular fix"},{"x":1.1,"y":-0.3,"fix":"Regular fix"},{"x":1.42,"y":-0.27,"fix":"Regular fix"},
{"x":-1.43,"y":0.03,"fix":"Regular fix"},{"x":-1.1,"y":-0.02,"fix":"Regular fix"},{"x":-0.86,"y":0.02,"fix":"Regular fix"},{"x":-0.54,"y":-0.03,"fix":"Regular fix"},{"x":-0.3,"y":0.01,"fix":"Regular fix"},{"x":0.02,"y":0.03,"fix":"Regular fix"},{"x":0.25,"y":-0.02,"fix":"Regular fix"},{"x":0.58,"y":0.02,"fix":"Regular fix"},{"x":0.83,"y":-0.03,"fix":"Regular fix"},{"x":1.14,"y":0.01,"fix":"Regular fix"},{"x":1.38,"y":0.02,"fix":"Regular fix"},
{"x":-1.39,"y":0.3,"fix":"Regular fix"},{"x":-1.1,"y":0.26,"fix":"Regular fix"},{"x":-0.83,"y":0.31,"fix":"Regular fix"},{"x":-0.57,"y":0.25,"fix":"Regular fix"},{"x":-0.29,"y":0.3,"fix":"Regular fix"},{"x":0.03,"y":0.26,"fix":"Regular fix"},{"x":0.29,"y":0.31,"fix":"Regular fix"},{"x":0.55,"y":0.27,"fix":"Regular fix"},{"x":0.81,"y":0.29,"fix":"Regular fix"},{"x":1.13,"y":0.25,"fix":"Regular fix"},{"x":1.41,"y":0.3,"fix":"Regular fix"},
{"x":-1.13,"y":0.54,"fix":"Regular fix"},{"x":-0.85,"y":0.59,"fix":"Regular fix"},{"x":-0.55,"y":0.53,"fix":"Regular fix"},{"x":-0.27,"y":0.58,"fix":"Regular fix"},{"x":-0.01,"y":0.54,"fix":"Regular fix"},{"x":0.3,"y":0.57,"fix":"Regular fix"},{"x":0.57,"y":0.55,"fix":"Regular fix"},{"x":0.85,"y":0.58,"fix":"Regular fix"},{"x":1.1,"y":0.53,"fix":"Regular fix"},
{"x":-0.83,"y":0.86,"fix":"Regular fix"},{"x":-0.57,"y":0.81,"fix":"Regular fix"},{"x":-0.26,"y":0.87,"fix":"Regular fix"},{"x":0.01,"y":0.82,"fix":"Regular fix"},{"x":0.27,"y":0.85,"fix":"Regular fix"},{"x":0.58,"y":0.81,"fix":"Regular fix"},{"x":0.82,"y":0.87,"fix":"Regular fix"},
{"x":-0.26,"y":1.14,"fix":"Regular fix"},{"x":0.02,"y":1.09,"fix":"Regular fix"},{"x":0.3,"y":1.13,"fix":"Regular fix"},
{"x":-0.16,"y":-0.96,"fix":"Regular fix"},{"x":0.12,"y":-1.0,"fix":"Regular fix"},
{"x":-0.72,"y":-0.68,"fix":"Regular fix"},{"x":-0.4,"y":-0.73,"fix":"Regular fix"},{"x":-0.13,"y":-0.69,"fix":"Regular fix"},{"x":0.16,"y":-0.72,"fix":"Regular fix"},{"x":0.43,"y":-0.67,"fix":"Regular fix"},{"x":0.69,"y":-0.71,"fix":"Regular fix"},
{"x":-0.97,"y":-0.44,"fix":"Regular fix"},{"x":-0.71,"y":-0.4,"fix":"Regular fix"},{"x":-0.44,"y":-0.43,"fix":"Regular fix"},{"x":-0.12,"y":-0.39,"fix":"Regular fix"},{"x":0.15,"y":-0.44,"fix":"Regular fix"},{"x":0.41,"y":-0.41,"fix":"Regular fix"},{"x":0.72,"y":-0.45,"fix":"Regular fix"},{"x":0.99,"y":-0.4,"fix":"Regular fix"},
{"x":-1.0,"y":-0.12,"fix":"Regular fix"},{"x":-0.68,"y":-0.16,"fix":"Regular fix"},{"x":-0.43,"y":-0.11,"fix":"Regular fix"},{"x":-0.15,"y":-0.15,"fix":"Regular fix"},{"x":0.13,"y":-0.12,"fix":"Regular fix"},{"x":0.44,"y":-0.16,"fix":"Regular fix"},{"x":0.7,"y":-0.13,"fix":"Regular fix"},{"x":0.96,"y":-0.15,"fix":"Regular fix"},
{"x":-0.96,"y":0.16,"fix":"Regular fix"},{"x":-0.72,"y":0.12,"fix":"Regular fix"},{"x":-0.4,"y":0.15,"fix":"Regular fix"},{"x":-0.13,"y":0.11,"fix":"Regular fix"},{"x":0.16,"y":0.16,"fix":"Regular fix"},{"x":0.4,"y":0.12,"fix":"Regular fix"},{"x":0.68,"y":0.15,"fix":"Regular fix"},{"x":1.0,"y":0.13,"fix":"Regular fix"},
{"x":-0.99,"y":0.4,"fix":"Regular fix"},{"x":-0.69,"y":0.44,"fix":"Regular fix"},{"x":-0.43,"y":0.39,"fix":"Regular fix"},{"x":-0.15,"y":0.43,"fix":"Regular fix"},{"x":0.12,"y":0.4,"fix":"Regular fix"},{"x":0.44,"y":0.45,"fix":"Regular fix"},{"x":0.71,"y":0.41,"fix":"Regular fix"},{"x":0.97,"y":0.43,"fix":"Regular fix"},
{"x":-0.7,"y":0.72,"fix":"Regular fix"},{"x":-0.41,"y":0.68,"fix":"Regular fix"},{"x":-0.16,"y":0.71,"fix":"Regular fix"},{"x":0.13,"y":0.67,"fix":"Regular fix"},{"x":0.42,"y":0.72,"fix":"Regular fix"},{"x":0.72,"y":0.69,"fix":"Regular fix"},
{"x":-0.12,"y":1.0,"fix":"Regular fix"},{"x":0.15,"y":0.96,"fix":"Regular fix"},
{"x":-0.02,"y":0.05,"fix":"Regular fix"},{"x":0.12,"y":0.18,"fix":"Regular fix"},{"x":-0.21,"y":-0.08,"fix":"Regular fix"},{"x":0.31,"y":-0.14,"fix":"Regular fix"},{"x":-0.35,"y":0.22,"fix":"Regular fix"},{"x":0.05,"y":-0.33,"fix":"Regular fix"},{"x":-0.14,"y":0.41,"fix":"Regular fix"},{"x":0.42,"y":0.09,"fix":"Regular fix"},{"x":-0.44,"y":-0.27,"fix":"Regular fix"},{"x":0.22,"y":-0.41,"fix":"Regular fix"},
{"x":-0.08,"y":-0.15,"fix":"Regular fix"},{"x":0.17,"y":0.31,"fix":"Regular fix"},{"x":-0.29,"y":0.06,"fix":"Regular fix"},{"x":0.36,"y":0.28,"fix":"Regular fix"},{"x":-0.19,"y":-0.38,"fix":"Regular fix"},{"x":0.09,"y":0.02,"fix":"Regular fix"},{"x":-0.4,"y":0.35,"fix":"Regular fix"},{"x":0.28,"y":-0.29,"fix":"Regular fix"},{"x":-0.05,"y":0.27,"fix":"Regular fix"},{"x":0.47,"y":-0.05,"fix":"Regular fix"},
{"x":-0.31,"y":-0.19,"fix":"Regular fix"},{"x":0.14,"y":-0.22,"fix":"Regular fix"},{"x":-0.12,"y":0.12,"fix":"Regular fix"},{"x":0.03,"y":0.44,"fix":"Regular fix"},{"x":-0.47,"y":0.03,"fix":"Regular fix"},{"x":0.25,"y":0.45,"fix":"Regular fix"},{"x":-0.23,"y":-0.46,"fix":"Regular fix"},{"x":0.39,"y":-0.34,"fix":"Regular fix"},{"x":-0.01,"y":-0.48,"fix":"Regular fix"},{"x":-0.37,"y":0.11,"fix":"Regular fix"},
{"x":0.11,"y":-0.06,"fix":"Regular fix"},{"x":-0.17,"y":0.29,"fix":"Regular fix"},{"x":0.33,"y":0.16,"fix":"Regular fix"},{"x":-0.26,"y":-0.31,"fix":"Regular fix"},{"x":0.2,"y":0.07,"fix":"Regular fix"},{"x":-0.09,"y":-0.27,"fix":"Regular fix"},{"x":0.44,"y":0.38,"fix":"Regular fix"},{"x":-0.42,"y":-0.42,"fix":"Regular fix"},{"x":0.07,"y":0.36,"fix":"Regular fix"},{"x":-0.33,"y":0.43,"fix":"Regular fix"},
{"x":0.62,"y":-0.15,"fix":"Regular fix"},{"x":-0.58,"y":-0.33,"fix":"Regular fix"},{"x":0.71,"y":0.41,"fix":"Regular fix"},{"x":-0.66,"y":0.48,"fix":"Regular fix"},{"x":0.12,"y":-0.78,"fix":"Regular fix"},{"x":-0.21,"y":0.74,"fix":"Regular fix"},{"x":0.55,"y":-0.61,"fix":"Regular fix"},{"x":-0.74,"y":-0.12,"fix":"Regular fix"},{"x":0.83,"y":-0.27,"fix":"Regular fix"},{"x":-0.52,"y":-0.68,"fix":"Regular fix"},
{"x":0.35,"y":0.79,"fix":"Regular fix"},{"x":-0.89,"y":0.21,"fix":"Regular fix"},{"x":0.68,"y":-0.52,"fix":"Regular fix"},{"x":-0.3,"y":-0.85,"fix":"Regular fix"},{"x":0.91,"y":0.08,"fix":"Regular fix"},{"x":-0.61,"y":0.72,"fix":"Regular fix"},{"x":0.24,"y":-0.92,"fix":"Regular fix"},{"x":-0.95,"y":-0.3,"fix":"Regular fix"},{"x":0.77,"y":0.63,"fix":"Regular fix"},{"x":-0.12,"y":0.95,"fix":"Regular fix"},
{"x":0.58,"y":0.18,"fix":"Regular fix"},{"x":-0.7,"y":-0.56,"fix":"Regular fix"},{"x":0.47,"y":-0.79,"fix":"Regular fix"},{"x":-0.82,"y":0.44,"fix":"Regular fix"},{"x":0.96,"y":-0.36,"fix":"Regular fix"},{"x":-0.41,"y":0.88,"fix":"Regular fix"},{"x":0.18,"y":0.66,"fix":"Regular fix"},{"x":-0.55,"y":-0.02,"fix":"Regular fix"},{"x":0.8,"y":-0.6,"fix":"Regular fix"},{"x":-0.15,"y":-0.62,"fix":"Regular fix"},
{"x":0.66,"y":0.74,"fix":"Regular fix"},{"x":-0.98,"y":0.06,"fix":"Regular fix"},{"x":0.39,"y":-0.68,"fix":"Regular fix"},{"x":-0.63,"y":-0.82,"fix":"Regular fix"},{"x":0.87,"y":0.32,"fix":"Regular fix"},{"x":-0.28,"y":0.6,"fix":"Regular fix"},{"x":0.51,"y":-0.36,"fix":"Regular fix"},{"x":-0.78,"y":0.3,"fix":"Regular fix"},{"x":0.05,"y":-0.88,"fix":"Regular fix"},{"x":-0.47,"y":-0.54,"fix":"Regular fix"},
{"x":0.73,"y":-0.02,"fix":"Regular fix"},{"x":-0.86,"y":-0.47,"fix":"Regular fix"},{"x":0.44,"y":0.58,"fix":"Regular fix"},{"x":-0.2,"y":0.85,"fix":"Regular fix"},{"x":0.93,"y":-0.51,"fix":"Regular fix"},{"x":-0.68,"y":0.15,"fix":"Regular fix"},{"x":0.27,"y":-0.58,"fix":"Regular fix"},{"x":-0.57,"y":0.57,"fix":"Regular fix"},{"x":0.6,"y":0.5,"fix":"Regular fix"},{"x":-0.93,"y":-0.68,"fix":"Regular fix"},
{"x":0.1,"y":0.8,"fix":"Regular fix"},{"x":-0.36,"y":-0.74,"fix":"Regular fix"},{"x":0.85,"y":-0.15,"fix":"Regular fix"},{"x":-0.73,"y":0.66,"fix":"Regular fix"},{"x":0.5,"y":-0.95,"fix":"Regular fix"},{"x":-0.08,"y":-0.7,"fix":"Regular fix"},{"x":0.98,"y":0.55,"fix":"Regular fix"},{"x":-0.6,"y":-0.24,"fix":"Regular fix"},{"x":0.32,"y":0.92,"fix":"Regular fix"},{"x":-0.88,"y":0.75,"fix":"Regular fix"},
{"x":1.22,"y":0.35,"fix":"Regular fix"},{"x":-1.18,"y":0.51,"fix":"Regular fix"},{"x":1.35,"y":-0.58,"fix":"Regular fix"},{"x":-1.3,"y":-0.72,"fix":"Regular fix"},{"x":0.55,"y":1.2,"fix":"Regular fix"},{"x":-0.48,"y":-1.22,"fix":"Regular fix"},{"x":1.45,"y":0.78,"fix":"Regular fix"},{"x":-1.52,"y":0.1,"fix":"Regular fix"},{"x":1.02,"y":-1.12,"fix":"Regular fix"},{"x":-0.95,"y":1.15,"fix":"Regular fix"},
{"x":1.68,"y":-0.2,"fix":"Regular fix"},{"x":-1.65,"y":-0.4,"fix":"Regular fix"},{"x":0.2,"y":1.35,"fix":"Regular fix"},{"x":-0.15,"y":-1.3,"fix":"Regular fix"},{"x":1.15,"y":1.05,"fix":"Regular fix"},{"x":-1.25,"y":0.98,"fix":"Regular fix"},{"x":1.38,"y":-1.0,"fix":"Regular fix"},{"x":-1.12,"y":-1.1,"fix":"Regular fix"},{"x":0.8,"y":-1.25,"fix":"Regular fix"},{"x":-0.72,"y":1.3,"fix":"Regular fix"},
{"x":1.75,"y":0.45,"fix":"Regular fix"},{"x":-1.72,"y":0.65,"fix":"Regular fix"},{"x":1.55,"y":-0.75,"fix":"Regular fix"},{"x":-1.48,"y":-0.95,"fix":"Regular fix"},{"x":0.95,"y":1.35,"fix":"Regular fix"},{"x":-0.45,"y":1.45,"fix":"Regular fix"},{"x":0.42,"y":-1.42,"fix":"Regular fix"},{"x":-0.9,"y":-1.35,"fix":"Regular fix"},{"x":1.28,"y":-0.1,"fix":"Regular fix"},{"x":-1.35,"y":-0.18,"fix":"Regular fix"},
{"x":1.2,"y":0.65,"fix":"Regular fix"},{"x":-1.15,"y":0.2,"fix":"Regular fix"},{"x":1.45,"y":0.15,"fix":"Regular fix"},{"x":-1.28,"y":-0.45,"fix":"Regular fix"},{"x":0.65,"y":1.12,"fix":"Regular fix"},{"x":-0.25,"y":1.22,"fix":"Regular fix"},{"x":1.1,"y":-0.85,"fix":"Regular fix"},{"x":-1.05,"y":-0.9,"fix":"Regular fix"},{"x":1.58,"y":1.0,"fix":"Regular fix"},{"x":-1.55,"y":1.0,"fix":"Regular fix"},
{"x":1.3,"y":-0.35,"fix":"Regular fix"},{"x":-1.62,"y":0.3,"fix":"Regular fix"},{"x":0.3,"y":-1.15,"fix":"Regular fix"},{"x":-0.6,"y":-1.15,"fix":"Regular fix"},{"x":1.12,"y":-0.5,"fix":"Regular fix"},{"x":-1.3,"y":0.7,"fix":"Regular fix"},{"x":0.85,"y":1.22,"fix":"Regular fix"},{"x":-0.85,"y":1.08,"fix":"Regular fix"},{"x":1.7,"y":-0.45,"fix":"Regular fix"},{"x":-1.78,"y":-0.6,"fix":"Regular fix"},
{"x":1.86,"y":1.51,"fix":"Regular fix"},{"x":1.99,"y":1.57,"fix":"Regular fix"},{"x":2.46,"y":0.84,"fix":"Regular fix"},{"x":2.53,"y":0.44,"fix":"Regular fix"},{"x":2.1,"y":0.9,"fix":"Regular fix"},{"x":2.35,"y":0.62,"fix":"Regular fix"},{"x":2.5,"y":0.15,"fix":"Regular fix"},{"x":2.2,"y":-0.5,"fix":"Regular fix"},{"x":1.9,"y":-1.1,"fix":"Regular fix"},{"x":1.62,"y":-1.48,"fix":"Regular fix"},
{"x":2.42,"y":-0.95,"fix":"Regular fix"},{"x":-2.3,"y":0.32,"fix":"Regular fix"},{"x":-2.48,"y":-0.42,"fix":"Regular fix"},{"x":-2.1,"y":-0.92,"fix":"Regular fix"},{"x":-2.22,"y":0.82,"fix":"Regular fix"},{"x":-1.8,"y":1.32,"fix":"Regular fix"},{"x":-1.52,"y":1.72,"fix":"Regular fix"},{"x":-0.82,"y":1.9,"fix":"Regular fix"},{"x":0.2,"y":2.02,"fix":"Regular fix"},{"x":0.92,"y":1.95,"fix":"Regular fix"},
{"x":1.4,"y":1.82,"fix":"Regular fix"},{"x":1.72,"y":1.18,"fix":"Regular fix"},{"x":2.02,"y":1.28,"fix":"Regular fix"},{"x":-0.52,"y":-1.62,"fix":"Regular fix"},{"x":0.62,"y":-1.72,"fix":"Regular fix"},{"x":1.22,"y":-1.65,"fix":"Regular fix"},{"x":-1.42,"y":-1.52,"fix":"Regular fix"},{"x":-2.62,"y":0.02,"fix":"Regular fix"},{"x":2.65,"y":0.5,"fix":"Regular fix"},{"x":-0.3,"y":2.1,"fix":"Regular fix"},
{"x":1.05,"y":2.25,"fix":"Regular fix"},{"x":-1.2,"y":1.58,"fix":"Regular fix"},{"x":1.88,"y":-0.15,"fix":"Regular fix"},{"x":-1.75,"y":-0.72,"fix":"Regular fix"},{"x":2.3,"y":1.05,"fix":"Regular fix"},{"x":-2.0,"y":-1.3,"fix":"Regular fix"},{"x":0.0,"y":-1.55,"fix":"Regular fix"},{"x":-0.95,"y":-1.65,"fix":"Regular fix"},{"x":2.1,"y":-1.2,"fix":"Regular fix"},{"x":-2.35,"y":1.25,"fix":"Regular fix"},
{"x":4.48,"y":9.76,"fix":"Regular fix"},{"x":-1.18,"y":7.24,"fix":"Regular fix"},{"x":0.78,"y":7.12,"fix":"Regular fix"},{"x":4.36,"y":5.64,"fix":"Regular fix"},{"x":4.76,"y":5.16,"fix":"Regular fix"},{"x":-2.97,"y":4.0,"fix":"Regular fix"},{"x":6.47,"y":-0.28,"fix":"Regular fix"},{"x":4.92,"y":-1.08,"fix":"Regular fix"},{"x":-3.41,"y":1.04,"fix":"Regular fix"},{"x":-2.81,"y":1.16,"fix":"Regular fix"},
{"x":-2.89,"y":-1.84,"fix":"Regular fix"},{"x":-1.44,"y":-2.7,"fix":"Regular fix"},{"x":-1.18,"y":-3.0,"fix":"Regular fix"},{"x":-1.93,"y":-4.12,"fix":"Regular fix"},{"x":0.28,"y":-2.72,"fix":"Regular fix"},{"x":0.66,"y":3.18,"fix":"Regular fix"},{"x":0.33,"y":2.77,"fix":"Regular fix"},{"x":-1.69,"y":2.27,"fix":"Regular fix"},{"x":-1.03,"y":2.2,"fix":"Regular fix"},{"x":3.12,"y":1.35,"fix":"Regular fix"},
{"x":-1.86,"y":-1.87,"fix":"Regular fix"},{"x":-0.65,"y":-2.31,"fix":"Regular fix"},{"x":-1.23,"y":-1.96,"fix":"Regular fix"},{"x":0.26,"y":-1.76,"fix":"Regular fix"},
{"x":-0.06,"y":2.31,"fix":"Timed\u2212out fix"},{"x":1.02,"y":1.88,"fix":"Timed\u2212out fix"},{"x":1.13,"y":1.37,"fix":"Timed\u2212out fix"},{"x":2.38,"y":1.16,"fix":"Timed\u2212out fix"},{"x":1.16,"y":0.77,"fix":"Timed\u2212out fix"},{"x":1.94,"y":0.4,"fix":"Timed\u2212out fix"},{"x":1.61,"y":0.11,"fix":"Timed\u2212out fix"},{"x":2.65,"y":-0.22,"fix":"Timed\u2212out fix"},{"x":1.36,"y":-0.43,"fix":"Timed\u2212out fix"},{"x":0.99,"y":-0.33,"fix":"Timed\u2212out fix"},
{"x":2.65,"y":-1.32,"fix":"Timed\u2212out fix"},{"x":0.83,"y":-0.89,"fix":"Timed\u2212out fix"},{"x":0.76,"y":-1.21,"fix":"Timed\u2212out fix"},{"x":0.96,"y":-1.58,"fix":"Timed\u2212out fix"},{"x":-0.19,"y":-1.84,"fix":"Timed\u2212out fix"},{"x":0.3,"y":-3.08,"fix":"Timed\u2212out fix"},{"x":-2.53,"y":-0.47,"fix":"Timed\u2212out fix"},{"x":-2.29,"y":-1.01,"fix":"Timed\u2212out fix"},{"x":-1.96,"y":-1.4,"fix":"Timed\u2212out fix"},{"x":-1.28,"y":-1.21,"fix":"Timed\u2212out fix"},
{"x":-0.59,"y":-0.34,"fix":"Timed\u2212out fix"},{"x":-0.07,"y":0.07,"fix":"Timed\u2212out fix"},{"x":0.1,"y":0.15,"fix":"Timed\u2212out fix"},{"x":0.17,"y":0.01,"fix":"Timed\u2212out fix"},{"x":0.46,"y":0.15,"fix":"Timed\u2212out fix"},{"x":0.5,"y":0.11,"fix":"Timed\u2212out fix"},{"x":0.02,"y":-0.13,"fix":"Timed\u2212out fix"},{"x":0.13,"y":-0.23,"fix":"Timed\u2212out fix"},{"x":1.03,"y":0.07,"fix":"Timed\u2212out fix"},{"x":0.19,"y":-0.43,"fix":"Timed\u2212out fix"}
]
},
"vconcat": [
{
 "width": 625, "height": 488,
 "title": {"text": "A)", "anchor": "start", "frame": "group", "dx": 2, "offset": -49, "baseline": "alphabetic"},
 "data": {"name": "a"},
 "resolve": {"axis": {"x": "independent"}},
 "layer": [
  {"mark": {"type": "point", "filled": false, "size": 100, "strokeWidth": 1.3},
   "encoding": {
    "x": {"field": "x", "type": "quantitative", "scale": {"domain": [-12.48, 12.42], "nice": false, "zero": false},
          "axis": {"orient": "bottom", "values": [-10, -5, 0, 5, 10], "labelPadding": 17, "labelFlush": false, "labelOverlap": false, "title": "x", "titleX": 317.5, "titleY": 98, "titleBaseline": "alphabetic", "titleAlign": "center"}},
    "y": {"field": "y", "type": "quantitative", "scale": {"domain": [-8.96, 10.44], "nice": false, "zero": false},
          "axis": {"values": [-5, 0, 5, 10], "labelAngle": 270, "labelAlign": "center", "labelBaseline": "alphabetic", "labelPadding": 17.7, "labelFlush": false, "labelOverlap": false, "title": "y", "titleAngle": 270, "titleX": -86, "titleBaseline": "alphabetic", "titleAlign": "center"}},
    "color": {"field": "fix", "type": "nominal", "scale": {"domain": ["Regular fix", "Timed\u2212out fix"], "range": ["#0000ff", "#ff0000"]},
              "legend": {"title": null, "orient": "none", "legendX": -1, "legendY": 22, "symbolType": "circle", "symbolSize": 100, "symbolStrokeWidth": 1.3, "labelFontSize": 22, "labelOffset": 14, "rowPadding": 9, "padding": 0}},
    "opacity": {"field": "fix", "type": "nominal", "scale": {"domain": ["Regular fix", "Timed\u2212out fix"], "range": [0.35, 1]},
              "legend": {"title": null, "orient": "none", "legendX": -1, "legendY": 22, "symbolType": "circle", "symbolSize": 100, "symbolStrokeWidth": 1.3, "labelFontSize": 22, "labelOffset": 14, "rowPadding": 9, "padding": 0}}
   }},
  {"mark": {"type": "point", "opacity": 0},
   "encoding": {"x": {"field": "x", "type": "quantitative",
     "axis": {"orient": "top", "labels": false, "ticks": false, "title": "Blanket UERE", "titleFontSize": 26, "titleFontWeight": "bold", "titleX": 317.8, "titleY": -42.7, "titleBaseline": "alphabetic", "titleAlign": "center", "titleAngle": 0}}}}
 ]
},
{
 "width": 625, "height": 488,
 "title": {"text": "B)", "anchor": "start", "frame": "group", "dx": 2, "offset": -49, "baseline": "alphabetic"},
 "data": {"name": "b"},
 "resolve": {"axis": {"x": "independent"}},
 "layer": [
  {"mark": {"type": "point", "filled": false, "size": 100, "strokeWidth": 1.3},
   "encoding": {
    "x": {"field": "x", "type": "quantitative", "scale": {"domain": [-12.48, 12.42], "nice": false, "zero": false},
          "axis": {"orient": "bottom", "values": [-10, -5, 0, 5, 10], "labelPadding": 17, "labelFlush": false, "labelOverlap": false, "title": "x", "titleX": 317.5, "titleY": 98, "titleBaseline": "alphabetic", "titleAlign": "center"}},
    "y": {"field": "y", "type": "quantitative", "scale": {"domain": [-8.96, 10.44], "nice": false, "zero": false},
          "axis": {"values": [-5, 0, 5, 10], "labelAngle": 270, "labelAlign": "center", "labelBaseline": "alphabetic", "labelPadding": 17.7, "labelFlush": false, "labelOverlap": false, "title": "y", "titleAngle": 270, "titleX": -86, "titleBaseline": "alphabetic", "titleAlign": "center"}},
    "color": {"field": "fix", "type": "nominal", "scale": {"domain": ["Regular fix", "Timed\u2212out fix"], "range": ["#0000ff", "#ff0000"]}, "legend": null},
    "opacity": {"field": "fix", "type": "nominal", "scale": {"domain": ["Regular fix", "Timed\u2212out fix"], "range": [0.35, 1]}, "legend": null}
   }},
  {"mark": {"type": "point", "opacity": 0},
   "encoding": {"x": {"field": "x", "type": "quantitative",
     "axis": {"orient": "top", "labels": false, "ticks": false, "title": "In\u2212Time UERE & Timed\u2212Out UERE", "titleFontSize": 26, "titleFontWeight": "bold", "titleX": 317.8, "titleY": -42.7, "titleBaseline": "alphabetic", "titleAlign": "center", "titleAngle": 0}}}}
 ]
}
]
}
